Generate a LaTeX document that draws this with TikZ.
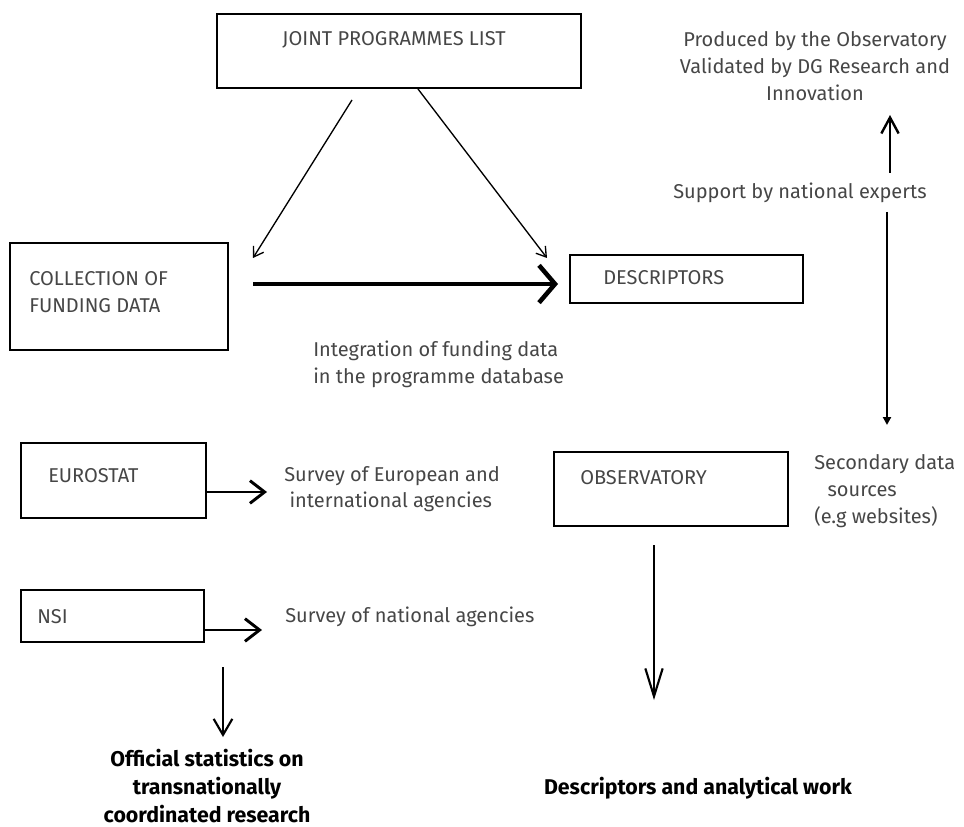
\documentclass[tikz,border=0pt]{standalone}
\usepackage{fontspec}
\setmainfont{Fira Sans}
\usepackage{tikz}
\usetikzlibrary{positioning}
\usetikzlibrary{arrows.meta}
\definecolor{txt}{RGB}{70,70,70}
\tikzset{
	rectnode/.style={rectangle, draw=black, line width=2pt, inner sep=0pt},
	labelnode/.style={text=txt, font=\fontsize{15}{20}\selectfont, inner sep=0pt},
	resultnode/.style={text=black, font=\fontsize{16}{21}\selectfont\bfseries, align=center, inner sep=0pt},
	thinarrow/.style={-{Straight Barb[length=7pt, width=9pt]}, line width=1pt},
	boldarrow/.style={-{Straight Barb[length=11pt, width=17pt]}, line width=2.2pt}
}

\begin{document}
\begin{tikzpicture}[x=0.75pt, y=-0.75pt]
		\useasboundingbox (0,0) rectangle (964,827);
		
		%boxes
		\node[rectnode, minimum width=273pt, minimum height=55.5pt] at (399,51) (jpl) {};
		\node[rectnode, minimum width=163.5pt, minimum height=80.25pt] at (119,296.5) (coll) {};
		\node[rectnode, minimum width=174.75pt, minimum height=36pt] at (686.5,279) (desc) {};
		\node[rectnode, minimum width=138.75pt, minimum height=56.25pt] at (113.5,480.5) (euro) {};
		\node[rectnode, minimum width=175.5pt, minimum height=55.5pt] at (671,489) (obs) {};
		\node[rectnode, minimum width=137.25pt, minimum height=39pt] at (112.5,616) (nsi) {};
		
		%text
		\node[labelnode] at (394,40) (jpltext) {JOINT PROGRAMMES LIST};
		\node[labelnode, anchor=west, align=left] at (29,292) (colltext) {COLLECTION OF\\FUNDING DATA};
		\node[labelnode, anchor=west] at (603,278) (desctext) {DESCRIPTORS};
		\node[labelnode, anchor=west, align=left] at (313,364) (integ) {Integration of funding data\\in the programme database};
		\node[labelnode, anchor=west] at (48,476) (eurotext) {EUROSTAT};
		\node[labelnode, anchor=west, align=left] at (284,489) (surveyeu) {Survey of European and\\\hspace{4pt}international agencies};
		\node[labelnode, anchor=west] at (580,478) (obstext) {OBSERVATORY};
		\node[labelnode, anchor=west, align=left] at (814,491) (second) {Secondary data\\\hspace{10pt}sources\\(e.g websites)};
		\node[labelnode, anchor=west] at (37,617) (nsitext) {NSI};
		\node[labelnode, anchor=west] at (285,617) (surveynat) {Survey of national agencies};
		\node[labelnode, align=center] at (815,66) (produced) {Produced by the Observatory\\Validated by DG Research and\\Innovation};
		\node[labelnode, anchor=west] at (673,193) (support) {Support by national experts};
		\node[resultnode] at (207,786) (official) {Official statistics on\\transnationally\\coordinated research};
		\node[resultnode] at (698,788) (analytic) {Descriptors and analytical work};
		
		%free ends
		\coordinate (jplL) at (352,100);
		\coordinate (collin) at (253,258);
		\coordinate (jplR) at (418,89);
		\coordinate (descin) at (547,258);
		\coordinate (collout) at (253,284);
		\coordinate (descthick) at (558,284);
		\coordinate (euroout) at (206,492);
		\coordinate (euroin) at (267,492);
		\coordinate (nsiout) at (204,630);
		\coordinate (nsiin) at (262,630);
		\coordinate (nsidown) at (223,667);
		\coordinate (officialin) at (223,737);
		\coordinate (obsdown) at (654,545);
		\coordinate (analyticin) at (654,700);
		\coordinate (supportup) at (890,173);
		\coordinate (producedin) at (890,115);
		\coordinate (supportdown) at (887,212);
		\coordinate (secondin) at (887,425);
		
		%Lines
		\draw[thinarrow] (jplL) -- (collin);
		\draw[thinarrow] (jplR) -- (descin);
		\draw[-{Straight Barb[length=12pt, width=28pt]}, line width=3.4pt] (collout) -- (descthick);
		\draw[boldarrow] (euroout) -- (euroin);
		\draw[boldarrow] (nsiout) -- (nsiin);
		\draw[-{Straight Barb[length=12pt, width=14pt]}, line width=1.6pt] (nsidown) -- (officialin);
		\draw[-{Straight Barb[length=21pt, width=13pt]}, line width=1.6pt] (obsdown) -- (analyticin);
		\draw[-{Straight Barb[length=12pt, width=13pt]}, line width=1.8pt] (supportup) -- (producedin);
		\draw[-{Triangle[length=6pt, width=6pt]}, line width=1.6pt] (supportdown) -- (secondin);
		
	\end{tikzpicture}
\end{document}
